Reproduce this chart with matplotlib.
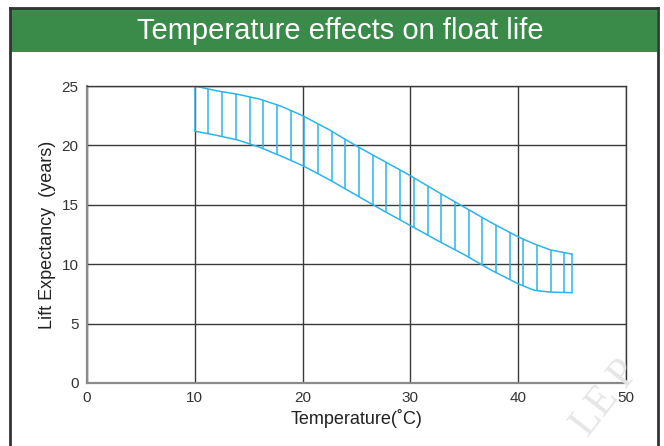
# Temperature effects on float life - band chart with vertical hatching
import numpy as np
import matplotlib
matplotlib.use('Agg')
import matplotlib.pyplot as plt
from matplotlib.patches import Rectangle
from matplotlib.lines import Line2D

plt.rcParams['font.family'] = ['Liberation Sans', 'DejaVu Sans']

# values
temp_upper = [10, 12, 14, 16, 18, 20, 22.5, 25, 27.5, 30, 32.5, 35, 37.5, 40, 41.5, 43, 45]
life_upper = [25.0, 24.6, 24.3, 23.9, 23.3, 22.5, 21.3, 19.95, 18.7, 17.45, 16.1, 14.8, 13.5, 12.3, 11.7, 11.2, 10.85]
temp_lower = [10, 12, 14, 16, 18, 20, 22.5, 25, 27.5, 30, 32.5, 35, 37.5, 40, 41.5, 43, 45]
life_lower = [21.2, 20.85, 20.45, 19.85, 19.1, 18.3, 17.1, 15.8, 14.5, 13.25, 12.0, 10.8, 9.5, 8.35, 7.8, 7.65, 7.6]

x_ticks = [0, 10, 20, 30, 40, 50]
y_ticks = [0, 5, 10, 15, 20, 25]

band_color = '#2bb5ea'
grid_color = '#3a3a3a'

fig = plt.figure(figsize=(6.64, 4.46), dpi=100)
W, H = 664, 446

# outer frame and green header
fig.add_artist(Rectangle((11 / W, 1 - 52 / H), 646 / W, 44 / H, transform=fig.transFigure,
                         facecolor='#3a8b4a', edgecolor='none'))
fig.add_artist(Line2D([10 / W, 10 / W], [0, 1 - 8 / H], transform=fig.transFigure, color='#333333', lw=2))
fig.add_artist(Line2D([658 / W, 658 / W], [0, 1 - 8 / H], transform=fig.transFigure, color='#333333', lw=2))
fig.add_artist(Line2D([10 / W, 658 / W], [1 - 8 / H, 1 - 8 / H], transform=fig.transFigure, color='#333333', lw=2))
fig.text(340 / W, 1 - 31 / H, 'Temperature effects on float life', color='white',
         fontsize=21, ha='center', va='center')

# watermark
fig.text(606 / W, 1 - 398 / H, 'LE P', color='#e6e6e6', fontsize=30, family='Liberation Serif',
         rotation=52, ha='center', va='center', zorder=0)

ax = fig.add_axes([87 / W, 1 - 383 / H, (626 - 87) / W, (383 - 86) / H])
ax.set_xlim(0, 50)
ax.set_ylim(0, 25)
ax.set_xticks(x_ticks)
ax.set_yticks(y_ticks)
ax.tick_params(length=0, labelsize=11, labelcolor='#333333', pad=6)
ax.grid(True, color=grid_color, lw=1)
ax.set_axisbelow(True)
for s in ['top', 'right']:
    ax.spines[s].set_color(grid_color)
    ax.spines[s].set_linewidth(1)
for s in ['left', 'bottom']:
    ax.spines[s].set_color('#8a8a8a')
    ax.spines[s].set_linewidth(1.6)
ax.patch.set_alpha(0)

ax.plot(temp_upper, life_upper, color=band_color, lw=1.1)
ax.plot(temp_lower, life_lower, color=band_color, lw=1.1)

# vertical hatching between the two curves
hx = list(np.arange(10, 45, 1.27)) + [45]
hu = np.interp(hx, temp_upper, life_upper)
hl = np.interp(hx, temp_lower, life_lower)
ax.vlines(hx, hl, hu, color=band_color, lw=1.1)

ax.set_xlabel('Temperature(˚C)', fontsize=13, color='#222222', labelpad=3)
ax.set_ylabel('Lift Expectancy  (years)', fontsize=13, color='#222222', labelpad=4)

fig.savefig('out.png', dpi=100)
